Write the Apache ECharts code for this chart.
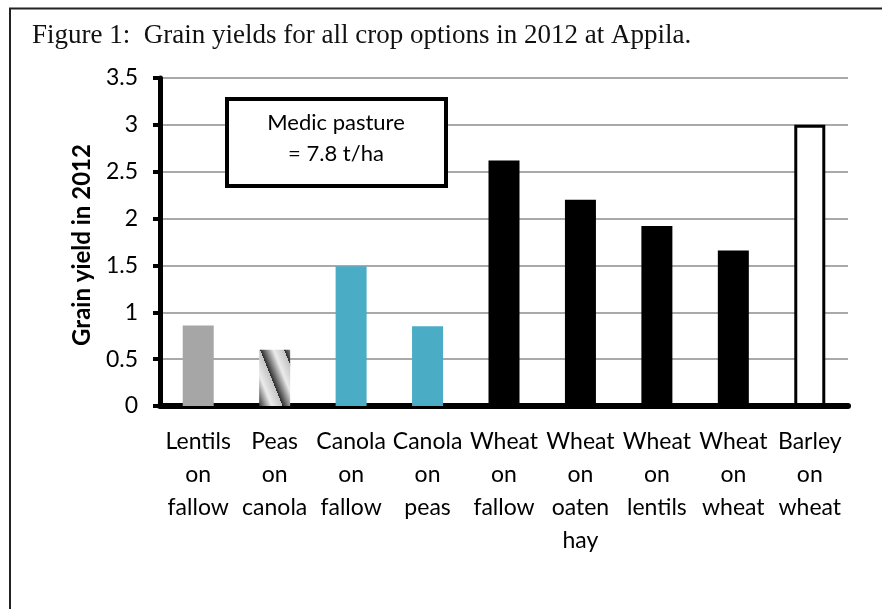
<!DOCTYPE html>
<html>
<head>
<meta charset="utf-8">
<script src="https://cdn.jsdelivr.net/npm/echarts@6/dist/echarts.min.js"></script>
<style>
html,body{margin:0;padding:0;background:#fff;}
#chart{width:882px;height:609px;}
</style>
</head>
<body>
<div id="chart"></div>
<script>
// ---- data ----
const categories = [
  "Lentils\non\nfallow", "Peas\non\ncanola", "Canola\non\nfallow", "Canola\non\npeas",
  "Wheat\non\nfallow", "Wheat\non\noaten\nhay", "Wheat\non\nlentils", "Wheat\non\nwheat", "Barley\non\nwheat"
];
const yields = [0.86, 0.60, 1.49, 0.85, 2.62, 2.20, 1.92, 1.66, 3.0];
const yTicks = { min: 0, max: 3.5, interval: 0.5 };
const titleText = "Figure 1:  Grain yields for all crop options in 2012 at Appila.";
const yAxisTitle = "Grain yield in 2012";
const noteLines = ["Medic pasture", "= 7.8 t/ha"];

// ---- styles ----
function makePeasPattern() {
  const w = 24, h = 60;
  const c = document.createElement('canvas');
  c.width = w; c.height = h;
  const ctx = c.getContext('2d');
  const img = ctx.createImageData(w, h);
  for (let y = 0; y < h; y++) {
    for (let x = 0; x < w; x++) {
      let t = ((x - y * 0.4) % w + w) % w / w;
      let v;
      if (t < 0.55) v = 45 + (235 - 45) * (t / 0.55);
      else v = 235 - 40 * ((t - 0.55) / 0.45);
      v = Math.round(v);
      const i = (y * w + x) * 4;
      img.data[i] = v; img.data[i + 1] = v; img.data[i + 2] = v; img.data[i + 3] = 255;
    }
  }
  ctx.putImageData(img, 0, 0);
  return c;
}
const peasPattern = makePeasPattern();
const barStyles = [
  { color: '#a6a6a6' },
  { color: { image: peasPattern, repeat: 'repeat' } },
  { color: '#4bacc6' },
  { color: '#4bacc6' },
  { color: '#000000' },
  { color: '#000000' },
  { color: '#000000' },
  { color: '#000000' },
  { color: '#ffffff', borderColor: '#000000', borderWidth: 3 }
];

const labelFont = 'Lato, "Open Sans", sans-serif';

const chart = echarts.init(document.getElementById('chart'), null, { renderer: 'canvas' });
chart.setOption({
  animation: false,
  backgroundColor: '#ffffff',
  grid: { left: 160, right: 34, top: 78, bottom: 203, containLabel: false },
  xAxis: {
    type: 'category',
    data: categories,
    axisLine: { show: true, lineStyle: { color: '#000', width: 6 } },
    axisTick: { show: false },
    axisLabel: {
      interval: 0, color: '#000', fontSize: 23, fontFamily: labelFont,
      lineHeight: 33, margin: 19, align: 'center'
    }
  },
  yAxis: {
    type: 'value',
    min: yTicks.min, max: yTicks.max, interval: yTicks.interval,
    axisLine: { show: true, lineStyle: { color: '#000', width: 5 } },
    axisTick: { show: true, inside: false, length: 7, lineStyle: { color: '#000', width: 4 } },
    axisLabel: { color: '#000', fontSize: 23, fontFamily: labelFont, margin: 22 },
    splitLine: { show: true, lineStyle: { color: '#8c8c8c', width: 1.5 } }
  },
  series: [{
    type: 'bar',
    barWidth: 31,
    data: yields.map((v, i) => ({ value: v, itemStyle: barStyles[i] })),
    z: 3
  }],
  graphic: [
    {
      type: 'rect', silent: true, z: 0,
      shape: { x: 10, y: 8.5, width: 900, height: 700 },
      style: { fill: 'none', stroke: '#222', lineWidth: 2 }
    },
    {
      type: 'text', x: 32, y: 49, z: 10,
      style: { text: titleText, font: '27px "Liberation Serif", "Times New Roman", serif', fill: '#111', verticalAlign: 'bottom' }
    },
    {
      type: 'text', z: 10, x: 82, y: 245, rotation: Math.PI / 2,
      style: { text: yAxisTitle, font: 'bold 24px ' + labelFont, fill: '#000', align: 'center', verticalAlign: 'middle' }
    },
    {
      type: 'rect', z: 20,
      shape: { x: 227, y: 99, width: 219, height: 87 },
      style: { fill: '#fff', stroke: '#000', lineWidth: 4 }
    },
    {
      type: 'text', z: 21, x: 336, y: 123,
      style: { text: noteLines[0], font: '22px ' + labelFont, fill: '#000', align: 'center', verticalAlign: 'middle' }
    },
    {
      type: 'text', z: 21, x: 336, y: 154,
      style: { text: noteLines[1], font: '22px ' + labelFont, fill: '#000', align: 'center', verticalAlign: 'middle' }
    }
  ]
});
</script>
</body>
</html>
